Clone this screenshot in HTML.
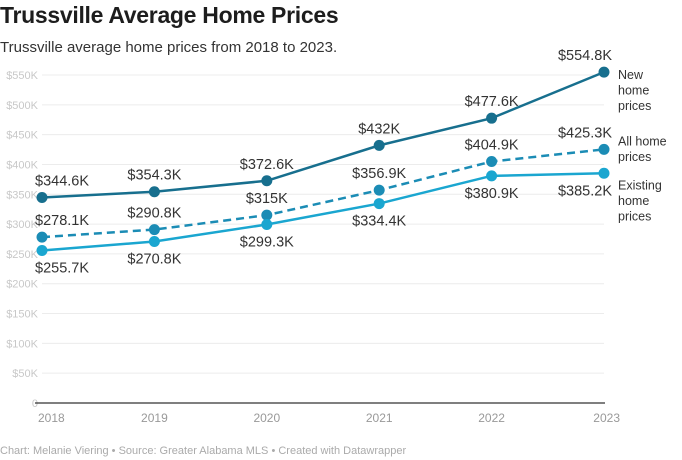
<!DOCTYPE html>
<html><head><meta charset="utf-8"><style>
body{margin:0;background:#fff;font-family:"Liberation Sans",sans-serif;}
#wrap{position:relative;width:682px;height:460px;overflow:hidden}
h1{position:absolute;left:0;top:2px;margin:0;font-size:23px;font-weight:bold;color:#1d1d1d;letter-spacing:-0.3px}
.sub{position:absolute;left:0;top:39px;font-size:15px;color:#333}
.foot{position:absolute;left:0;top:445px;font-size:11px;color:#aaa}
</style></head><body><div id="wrap">
<h1>Trussville Average Home Prices</h1>
<div class="sub">Trussville average home prices from 2018 to 2023.</div>
<svg id="chart" width="682" height="460" style="position:absolute;left:0;top:0"></svg>
<div class="foot">Chart: Melanie Viering • Source: Greater Alabama MLS • Created with Datawrapper</div>
</div>
<script>
const years=["2018","2019","2020","2021","2022","2023"];
const newPrices=[344.6,354.3,372.6,432,477.6,554.8];
const allPrices=[278.1,290.8,315,356.9,404.9,425.3];
const existingPrices=[255.7,270.8,299.3,334.4,380.9,385.2];
const yTicks=[0,50,100,150,200,250,300,350,400,450,500,550];
const seriesNames=[["New","home","prices"],["All home","prices"],["Existing","home","prices"]];
const svg=document.getElementById('chart');const NS="http://www.w3.org/2000/svg";
const x0=42,x1=604,y0=403,y1=75;
const xs=i=>x0+(x1-x0)*i/(years.length-1);
const ys=v=>y0-(y0-y1)*v/550;
function mk(t,a,p){const e=document.createElementNS(NS,t);for(const k in a)e.setAttribute(k,a[k]);(p||svg).appendChild(e);return e;}
yTicks.forEach(t=>{
 if(t>0){const g=mk('line',{x1:42,x2:604,y1:ys(t),y2:ys(t),stroke:'#ececec','stroke-width':1});
 
 }
 const l=mk('text',{x:38,y:ys(t)+4,'text-anchor':'end','font-size':11,fill:'#c8c8c8'});
 l.textContent=t==0?'0':'$'+t+'K';
 
 
});
const base=mk('line',{x1:35,x2:605,y1:y0,y2:y0,stroke:'#333','stroke-width':1.2});


years.forEach((y,i)=>{const t=mk('text',{x:xs(i),y:422,'text-anchor':i==0?'start':i==5?'end':'middle','font-size':12,fill:'#999'});
 if(i==0)t.setAttribute('x',x0-4); if(i==5)t.setAttribute('x',x1+16);
 t.textContent=y;
 
 });
const series=[
 {d:newPrices,c:'#176f8e',dash:null,lab:'above',name:'series-new-home',off:7},
 {d:allPrices,c:'#1b8cb5',dash:'8 5',lab:'above',name:'series-all-home',off:-4},
 {d:existingPrices,c:'#1aa6d0',dash:null,lab:'below',name:'series-existing-home',off:16}];
series.forEach((s,si)=>{
 const pts=s.d.map((v,i)=>xs(i)+','+ys(v)).join(' ');
 const pl=mk('polyline',{points:pts,fill:'none',stroke:s.c,'stroke-width':2.5});
 if(s.dash)pl.setAttribute('stroke-dasharray',s.dash);
 
 
 s.d.forEach((v,i)=>{
  const c=mk('circle',{cx:xs(i),cy:ys(v),r:5.5,fill:s.c});
  
  
  let lx=xs(i),anchor='middle';
  if(i==0){lx=x0-7;anchor='start';} if(i==5){lx=x1+8;anchor='end';}
  const ly=s.lab=='above'?ys(v)-12:ys(v)+22;
  const t=mk('text',{x:lx,y:ly,'text-anchor':anchor,'font-size':14.5,fill:'#333'});
  t.textContent='$'+v+'K';
  
  
 });
 const last=ys(s.d[5]);const lines=seriesNames[si];
 lines.forEach((ln,k)=>{const t=mk('text',{x:618,y:last+s.off+k*15.5,'font-size':12.5,fill:'#333'});
  t.textContent=ln;
  
  });
});
</script></body></html>
